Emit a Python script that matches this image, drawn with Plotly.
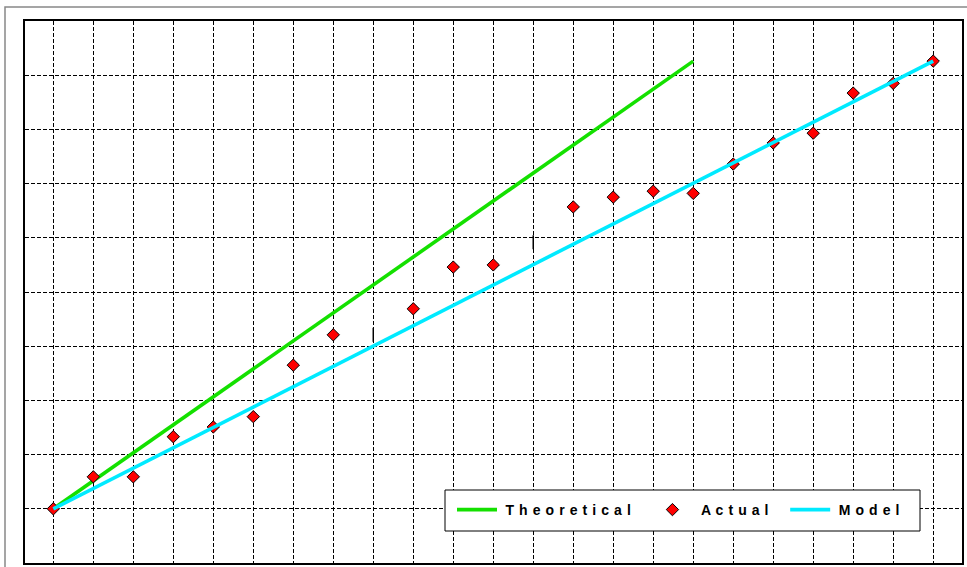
import plotly.graph_objects as go

# ---- data ----
actual_x = [0, 1, 2, 3, 4, 5, 6, 7, 9, 10, 11, 13, 14, 15, 16, 17, 18, 19, 20, 21, 22]
actual_y = [1.00, 1.59, 1.59, 2.33, 2.51, 2.70, 3.65, 4.21, 4.69, 5.46, 5.50,
            6.57, 6.75, 6.86, 6.82, 7.36, 7.75, 7.93, 8.67, 8.85, 9.26]
theory_x = [0, 16]
theory_y = [1.00, 9.26]
model_x = [0, 22]
model_y = [1.00, 9.26]
gap_x = [8, 12]
gap_y = [4.21, 5.92]

sp = " \u200a"
def spaced(s):
    return "\u2005" + sp.join(list(s))

pad = "\u00a0" * 3

fig = go.Figure()
fig.add_trace(go.Scatter(x=theory_x, y=theory_y, mode="lines", name=spaced("Theoretical") + pad,
                         line=dict(color="#14e000", width=3.6)))
fig.add_trace(go.Scatter(x=actual_x, y=actual_y, mode="markers", name=spaced("Actual") + pad,
                         marker=dict(symbol="diamond", size=9.5, color="#ff0000",
                                     line=dict(color="black", width=1))))
fig.add_trace(go.Scatter(x=gap_x, y=gap_y, mode="markers", showlegend=False,
                         marker=dict(symbol="line-ns", size=10,
                                     line=dict(color="black", width=1.5))))
fig.add_trace(go.Scatter(x=model_x, y=model_y, mode="lines", name=spaced("Model"),
                         line=dict(color="#00eaff", width=3.6)))

W, H = 967, 567
L, R, T, B = 25, 5, 21, 4
pw, ph = W - L - R, H - T - B

def px2paper(x, y):
    return (x - L) / pw, (H - B - y) / ph

ox0, oy1 = px2paper(5, 7)
lx0, ly1 = px2paper(445, 490)
lx1, ly0 = px2paper(920, 531)
legx, legy = px2paper(452, 510)

fig.update_layout(
    width=W, height=H,
    margin=dict(l=L, r=R, t=T, b=B),
    paper_bgcolor="white", plot_bgcolor="white",
    font=dict(family="Liberation Sans, Arial, sans-serif", color="black"),
    showlegend=True,
    legend=dict(orientation="h", x=legx, y=legy, xanchor="left", yanchor="middle",
                bgcolor="rgba(0,0,0,0)", borderwidth=0, itemwidth=40,
                font=dict(size=14, weight="bold", color="black")),
    shapes=[
        dict(type="rect", xref="paper", yref="paper", x0=ox0, y0=-0.2, x1=1.2, y1=oy1,
             line=dict(color="#888888", width=1.5), fillcolor="rgba(0,0,0,0)", layer="below"),
        dict(type="rect", xref="paper", yref="paper", x0=lx0, y0=ly0, x1=lx1, y1=ly1,
             line=dict(color="black", width=1), fillcolor="white", layer="above"),
    ],
    xaxis=dict(range=[-0.708, 22.72], tick0=0, dtick=1, showticklabels=False, ticks="",
               showgrid=True, gridcolor="black", gridwidth=1, griddash="4px,2px",
               zeroline=False, showline=True, linecolor="black", linewidth=1.5, mirror=True,
               fixedrange=True),
    yaxis=dict(range=[0, 10], tick0=0, dtick=1, showticklabels=False, ticks="",
               showgrid=True, gridcolor="black", gridwidth=1, griddash="4px,2px",
               zeroline=False, showline=True, linecolor="black", linewidth=1.5, mirror=True,
               fixedrange=True),
)

fig.write_html("out.html", config={"displayModeBar": False},
               post_script="document.body.style.margin='0';document.body.style.overflow='hidden';")
